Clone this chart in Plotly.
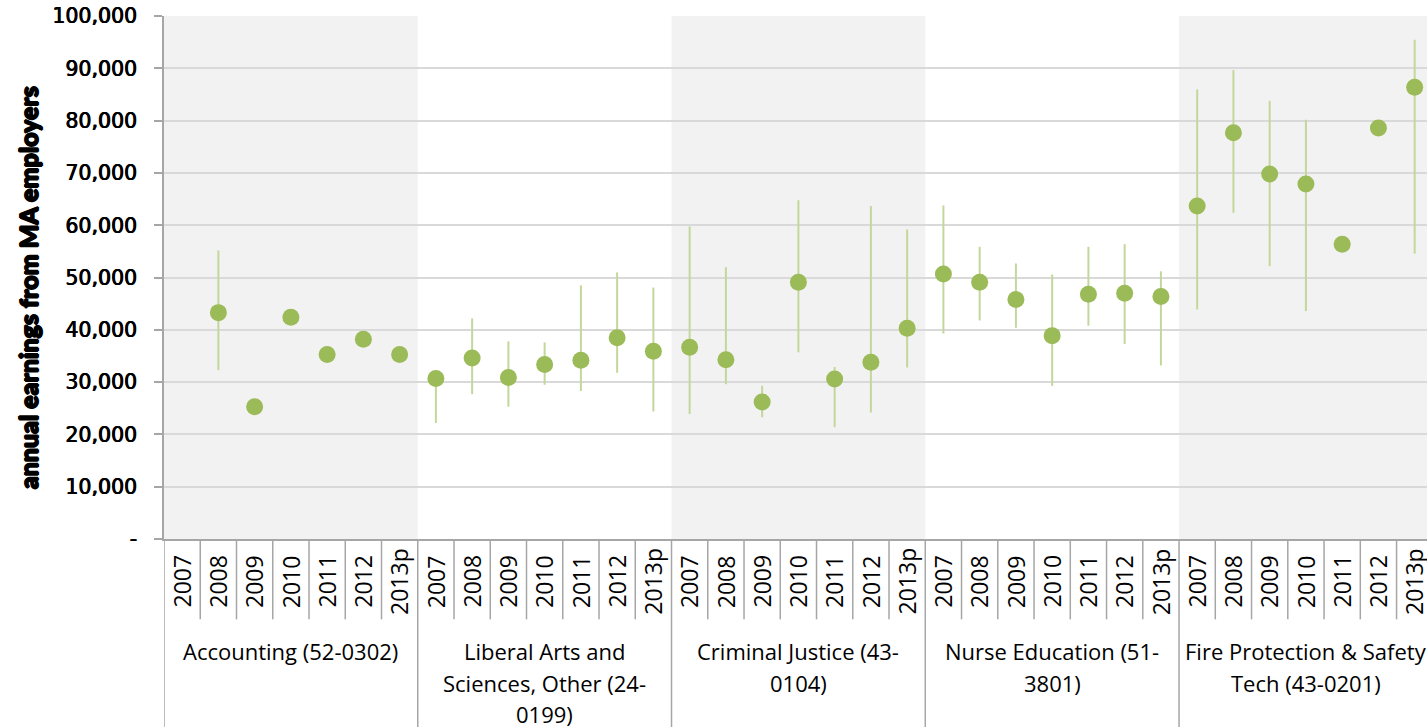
import plotly.graph_objects as go

years = ["2007", "2008", "2009", "2010", "2011", "2012", "2013p"]
programs = [
    "Accounting (52-0302)",
    "Liberal Arts and<br>Sciences, Other (24-<br>0199)",
    "Criminal Justice (43-<br>0104)",
    "Nurse Education (51-<br>3801)",
    "Fire Protection & Safety<br>Tech (43-0201)",
]

acc_mid = [None, 43300, 25300, 42400, 35300, 38200, 35300]
acc_lo = [None, 32300, None, None, None, None, None]
acc_hi = [None, 55200, None, None, None, None, None]

lib_mid = [30700, 34600, 30900, 33400, 34200, 38500, 35900]
lib_lo = [22200, 27700, 25300, 29500, 28300, 31800, 24400]
lib_hi = [31000, 42200, 37800, 37600, 48500, 51000, 48100]

crim_mid = [36700, 34300, 26200, 49100, 30600, 33800, 40300]
crim_lo = [23900, 29600, 23300, 35700, 21400, 24200, 32800]
crim_hi = [59800, 52000, 29300, 64800, 32900, 63700, 59200]

nurse_mid = [50700, 49100, 45800, 38900, 46800, 47000, 46400]
nurse_lo = [39300, 41800, 40400, 29300, 40800, 37300, 33200]
nurse_hi = [63800, 55900, 52700, 50600, 55900, 56400, 51200]

fire_mid = [63700, 77700, 69800, 67900, 56400, 78600, 86400]
fire_lo = [43900, 62400, 52200, 43600, None, None, 54600]
fire_hi = [86000, 89700, 83800, 80200, None, None, 95500]

y_tickvals = [0, 10000, 20000, 30000, 40000, 50000, 60000, 70000, 80000, 90000, 100000]
y_ticktext = ["-", "10,000", "20,000", "30,000", "40,000", "50,000",
              "60,000", "70,000", "80,000", "90,000", "100,000"]

mids = acc_mid + lib_mid + crim_mid + nurse_mid + fire_mid
los = acc_lo + lib_lo + crim_lo + nurse_lo + fire_lo
his = acc_hi + lib_hi + crim_hi + nurse_hi + fire_hi
xs = list(range(len(mids)))

plus, minus = [], []
for m, lo, hi in zip(mids, los, his):
    if m is None:
        plus.append(None); minus.append(None)
    else:
        plus.append(0 if hi is None else hi - m)
        minus.append(0 if lo is None else m - lo)

fig = go.Figure()
fig.add_trace(go.Scatter(
    x=xs, y=mids, mode="markers",
    marker=dict(color="#9BBB59", size=17),
    error_y=dict(type="data", symmetric=False, array=plus, arrayminus=minus,
                 color="#C4D79B", thickness=2, width=0),
    showlegend=False,
))

PLOT_L, PLOT_B, PLOT_H, PLOT_W = 163.5, 538.7, 522.7, 1263.5


def py(Y):
    return (PLOT_B - Y) / PLOT_H


def px(X):
    return (X - PLOT_L) / PLOT_W


n = len(years)
shapes = []
for g in range(len(programs)):
    if g % 2 == 0:
        shapes.append(dict(type="rect", xref="x", yref="paper",
                           x0=g * n - 0.5, x1=(g + 1) * n - 0.5, y0=0, y1=1,
                           fillcolor="#F2F2F2", line_width=0, layer="below"))
for i in range(len(mids) + 1):
    xb = i - 0.5
    full = (i % n == 0)
    shapes.append(dict(type="line", xref="x", yref="paper",
                       x0=xb, x1=xb, y0=0, y1=py(740) if full else py(619),
                       line=dict(color="#A6A6A6", width=1.5)))

annotations = []
for i, x in enumerate(xs):
    annotations.append(dict(x=x, xref="x", y=py(581), yref="paper",
                            text=years[i % n], textangle=-90, showarrow=False,
                            xanchor="center", yanchor="middle",
                            font=dict(family="Open Sans", size=23, color="#000000")))
for g, p in enumerate(programs):
    for k, line in enumerate(p.split("<br>")):
        annotations.append(dict(x=g * n + (n - 1) / 2, xref="x",
                                y=py(651 + 31.5 * k), yref="paper",
                                text=line, showarrow=False,
                                xanchor="center", yanchor="middle",
                                font=dict(family="Open Sans", size=22, color="#000000")))
annotations.append(dict(x=px(27), xref="paper", y=py(287.5), yref="paper",
                        text="annual earnings from MA employers", textangle=-90,
                        showarrow=False, xanchor="center", yanchor="middle",
                        font=dict(family="Lato Black, Lato", size=25, color="#000000",
                                  weight=900,
                                  shadow="0.9px 0 0 #000, -0.9px 0 0 #000, 0 0.9px 0 #000, 0 -0.9px 0 #000")))

fig.update_layout(
    width=1427, height=727,
    margin=dict(l=163.5, r=0, t=16, b=188.3, pad=0),
    plot_bgcolor="#FFFFFF", paper_bgcolor="#FFFFFF",
    shapes=shapes, annotations=annotations,
    xaxis=dict(range=[-0.5, 34.34], showticklabels=False, showgrid=False,
               zeroline=False, showline=True, linecolor="#A6A6A6", linewidth=1.5,
               ticks=""),
    yaxis=dict(range=[0, 100040], tickvals=y_tickvals, ticktext=y_ticktext,
               showgrid=True, gridcolor="#D9D9D9", gridwidth=1.5,
               zeroline=False, showline=True, linecolor="#A6A6A6", linewidth=1.5,
               ticks="outside", ticklen=8, tickcolor="#A6A6A6", tickwidth=1.5,
               ticklabelstandoff=13, ticklabeloverflow="allow",
               tickfont=dict(family="DejaVu Sans", size=20.5, color="#000000",
                             shadow="0.4px 0 0 #000, -0.4px 0 0 #000")),
)

fig.write_html("out.html", config={"displayModeBar": False},
               post_script="document.body.style.margin='0';document.body.style.overflow='hidden';")
